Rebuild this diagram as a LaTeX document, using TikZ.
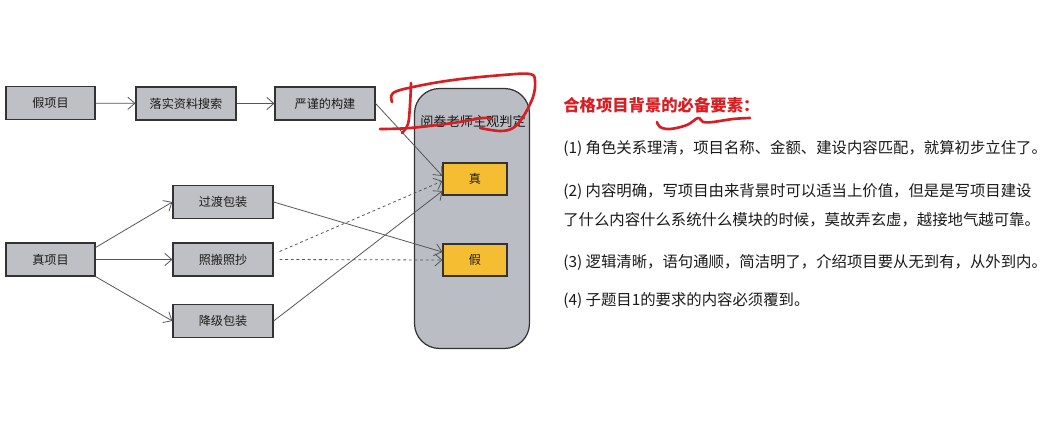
\documentclass[tikz,border=0pt]{standalone}
\usepackage{fontspec}
\setmainfont{Noto Sans CJK SC}
\usepackage{xcolor}
\usepackage{tikz}
\usetikzlibrary{arrows.meta,positioning}
\definecolor{boxgray}{HTML}{BFC0C5}
\definecolor{panel}{HTML}{BBBDC4}
\definecolor{edge}{HTML}{333333}
\definecolor{gold}{HTML}{F5BE32}
\definecolor{wire}{HTML}{555555}
\definecolor{ink}{HTML}{1A1A1A}
\definecolor{pen}{HTML}{D71E23}

\begin{document}
\begin{tikzpicture}[
  x=0.02cm, y=-0.02cm,
  box/.style={rectangle, draw=edge, fill=boxgray, line width=0.7pt, inner sep=0pt,
              minimum height=0.66cm, minimum width=2cm,
              font=\fontsize{6.9pt}{8pt}\selectfont, text=ink},
  ybox/.style={box, fill=gold, minimum width=1.28cm, minimum height=0.64cm},
  bigbox/.style={rectangle, rounded corners=0.5cm, draw=edge, fill=panel, line width=0.7pt,
                 inner sep=0pt, minimum width=2.3cm, minimum height=5.2cm},
  arr/.style={-{Straight Barb[length=4pt,width=7pt]}, line width=0.45pt, color=wire},
  darr/.style={arr, dash pattern=on 1.6pt off 1.6pt},
  txt/.style={anchor=west, inner sep=0pt, text=ink, font=\fontsize{8.75pt}{16.5pt}\selectfont, align=left},
  scrib/.style={pen, line width=1.5pt, line cap=round, line join=round},
]
  \useasboundingbox[fill=white] (0,0) rectangle (1059,446);

  % judge panel
  \node[bigbox](pd) at (472,218.5){};
  \node[font=\fontsize{7.5pt}{9pt}\selectfont, text=ink, inner sep=0pt](pdt) at (473,121){阅卷老师主观判定};
  \node[ybox](zh) at (475,179){真};
  \node[ybox](ja) at (475,260){假};

  % fake project row
  \node[box, minimum width=1.78cm](fp) at (50.5,103){假项目};
  \node[box](lk) at (186,103.5){落实资料搜索};
  \node[box](gj) at (325,103.5){严谨的构建};

  % real project fan
  \node[box, minimum width=1.78cm](rp) at (50.5,259.5){真项目};
  \node[box](gd) at (223,202){过渡包装};
  \node[box](zb) at (223,259.5){照搬照抄};
  \node[box](jj) at (223,321){降级包装};

  \draw[arr](fp)--(lk); \draw[arr](lk)--(gj);
  \draw[arr](gj.east)--([yshift=0.06cm]zh.west);
  \draw[arr]([yshift=0.24cm]rp.east)--(gd.west);
  \draw[arr](rp)--(zb);
  \draw[arr](rp.south east)--(jj.west);
  \draw[arr](gd.east)--([yshift=0.16cm]ja.west);
  \draw[arr](jj.east)--([yshift=-0.24cm]zh.west);
  \draw[darr]([xshift=0.12cm,yshift=0.16cm]zb.east)--([yshift=-0.04cm]zh.west);
  \draw[darr]([xshift=0.12cm]zb.east)--(ja.west);

  % notes on the right
  \node[txt, text=pen, font=\fontsize{9.3pt}{11pt}\selectfont\bfseries](hd) at (563,105){合格项目背景的必备要素：};
  \node[txt](n1) at (563,148){(1) 角色关系理清，项目名称、金额、建设内容匹配，就算初步立住了。};
  \node[txt](n2) at (563,205.5){(2) 内容明确，写项目由来背景时可以适当上价值，但是是写项目建设\\了什么内容什么系统什么模块的时候，莫故弄玄虚，越接地气越可靠。};
  \node[txt](n3) at (563,262){(3) 逻辑清晰，语句通顺，简洁明了，介绍项目要从无到有，从外到内。};
  \node[txt](n4) at (563,300){(4) 子题目1的要求的内容必须覆到。};

  % pen marks
  \draw[scrib] plot[smooth, tension=0.6] coordinates {(392,102) (393,93) (413,87) (453,80) (503,75) (530,74) (535,81) (533,97) (523,117) (513,128) (500,131) (480,128)};
  \draw[scrib] plot[smooth, tension=0.6] coordinates {(411,83) (410,105) (408,124) (402,133)};
  \draw[scrib] plot[smooth, tension=0.6] coordinates {(380,129) (410,128) (453,123) (483,118) (492,119)};
  \draw[scrib] plot[smooth, tension=0.6] coordinates {(657,122) (660,127) (670,129) (687,125) (698,118) (703,122) (713,122) (733,119) (750,118)};
\end{tikzpicture}
\end{document}
